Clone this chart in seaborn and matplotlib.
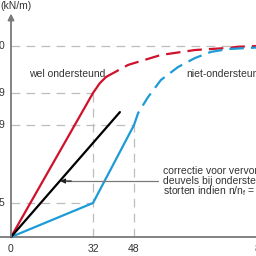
import matplotlib
matplotlib.use("Agg")
import matplotlib.pyplot as plt
import seaborn as sns

# ---- data ----
red_solid_x = [0, 32, 34.7, 37.1]
red_solid_y = [0, 75.4, 80.6, 83.8]
red_dash_x = [37.1, 45.7, 58.5, 71.8, 84.7, 88.6, 96]
red_dash_y = [83.8, 90.1, 95.3, 97.9, 99.0, 99.6, 100]
blue_solid_x = [0, 32, 48]
blue_solid_y = [0, 17.8, 58.6]
blue_dash_x = [48, 49.6, 53.5, 58.5, 65.2, 71.8, 78, 84.7, 96]
blue_dash_y = [58.6, 64.9, 73.3, 82.2, 89.0, 93.7, 96.9, 98.4, 99.2]
black_x = [0, 42.5]
black_y = [0, 65.4]
y_levels = [100, 75.4, 58.6, 17.8]
y_labels = ["0", "9", "9", "5"]
x_ticks = [0, 32, 48]
x_labels = ["0", "32", "48"]

sns.set_style("white")
plt.rcParams['font.family'] = ['Liberation Sans', 'DejaVu Sans']

fig = plt.figure(figsize=(2.56, 2.56), dpi=100)
ax = fig.add_axes([0, 0, 1, 1])
ax.set_xlim(-11 / 2.5625, 245 / 2.5625)
ax.set_ylim(-19 / 1.91, 237 / 1.91)
ax.axis("off")

RED = "#d0112b"
BLUE = "#1c9bd7"
GRID = "#bdbdbd"
AX = "#7a7a7a"
TXT = "#333333"

# guide lines
gd = dict(color=GRID, lw=0.9, dashes=(7, 5))
ax.plot([0, 96], [100, 100], **gd)
ax.plot([0, 32], [75.4, 75.4], **gd)
ax.plot([0, 48], [58.6, 58.6], **gd)
ax.plot([0, 32], [17.8, 17.8], **gd)
ax.plot([32, 32], [0, 75.4], **gd)
ax.plot([48, 48], [0, 58.6], **gd)

# axes
ax.plot([-5, 96], [0, 0], color=AX, lw=1.3)
ax.annotate("", xy=(0, 117), xytext=(0, 0),
            arrowprops=dict(arrowstyle="-|>", color=AX, lw=1.3,
                            mutation_scale=9, shrinkA=0, shrinkB=0))

# curves
sns.lineplot(x=red_solid_x, y=red_solid_y, color=RED, lw=1.6, ax=ax, sort=False)
sns.lineplot(x=red_dash_x, y=red_dash_y, color=RED, lw=1.6, ax=ax, sort=False,
             linestyle=(0, (6.5, 3.2)))
sns.lineplot(x=blue_solid_x, y=blue_solid_y, color=BLUE, lw=1.6, ax=ax, sort=False)
sns.lineplot(x=blue_dash_x, y=blue_dash_y, color=BLUE, lw=1.6, ax=ax, sort=False,
             linestyle=(0, (6.5, 3.2)))
sns.lineplot(x=black_x, y=black_y, color="black", lw=1.6, ax=ax, sort=False)

# arrow to black line
ax.plot([22, 57.5], [29.3, 29.3], color=AX, lw=0.9)
ax.annotate("", xy=(19.2, 29.3), xytext=(23.5, 29.3),
            arrowprops=dict(arrowstyle="-|>", color="#222222", lw=0.9,
                            mutation_scale=7, shrinkA=0, shrinkB=0))

# tick labels
for y, lab in zip(y_levels, y_labels):
    ax.text(-2.7, y, lab, ha="right", va="center", fontsize=7.5, color=TXT)
for x, lab in zip(x_ticks, x_labels):
    ax.text(x, -6.3, lab, ha="center", va="center", fontsize=7.5, color=TXT)
ax.text(95.0, -6.3, "8", ha="left", va="center", fontsize=7.5, color=TXT)

# texts
ax.text(-4.3, 121.2, "(kN/m)", ha="left", va="center", fontsize=7.5, color=TXT)
ax.text(7.0, 85.5, "wel ondersteund", ha="left", va="center", fontsize=7.5, color=TXT)
ax.text(68.3, 85.5, "niet-ondersteund", ha="left", va="center", fontsize=7.5, color=TXT)
ax.text(59.3, 34.8, "correctie voor vervorming", ha="left", va="center", fontsize=7.5, color=TXT)
ax.text(59.3, 29.3, "deuvels bij ondersteund", ha="left", va="center", fontsize=7.5, color=TXT)
ax.text(59.3, 23.8, r"storten indien n/n$_\mathregular{f}$ =", ha="left", va="center",
        fontsize=7.5, color=TXT)

fig.savefig("out.png", dpi=100)
